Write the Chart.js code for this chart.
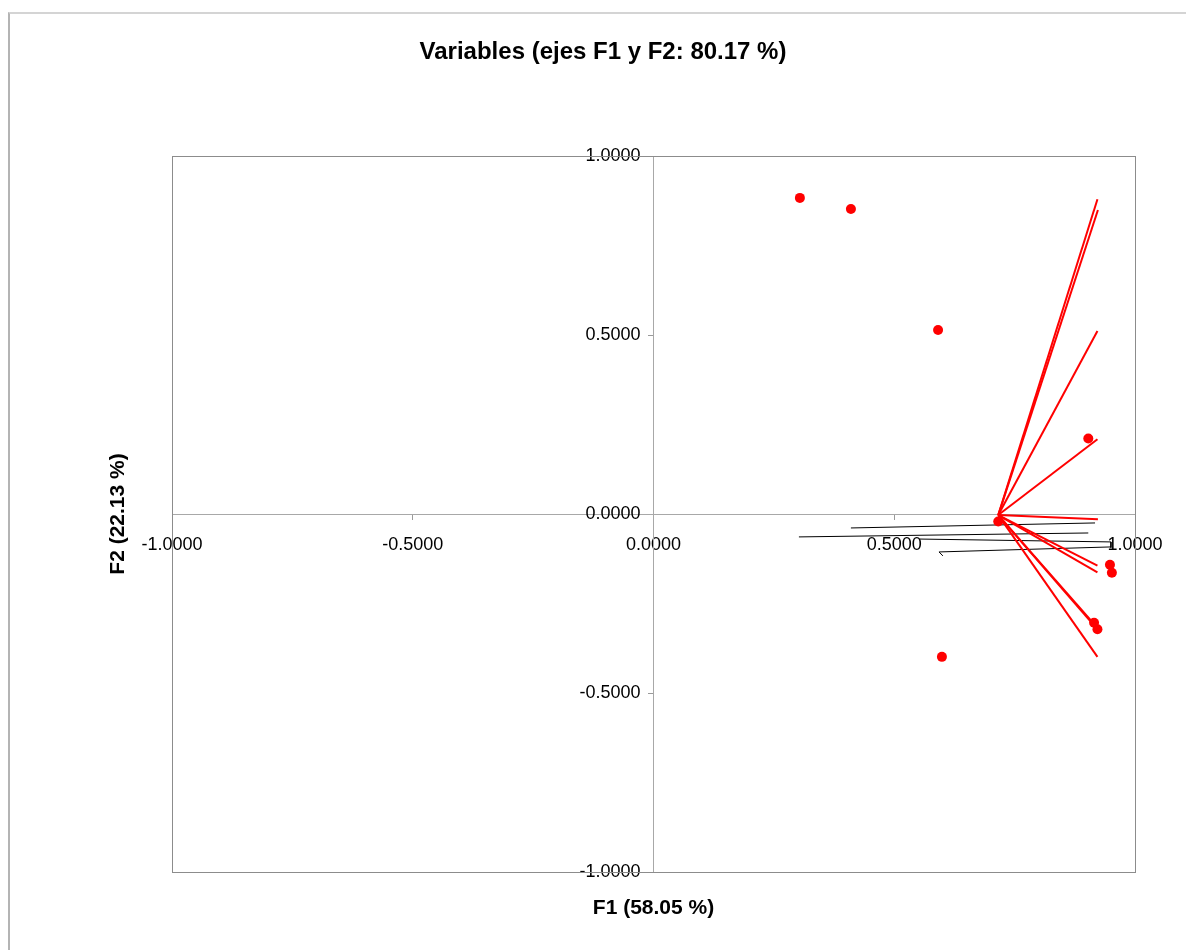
<!DOCTYPE html>
<html lang="es">
    <head>
        <meta charset="UTF-8">
        <title>Variables (ejes F1 y F2: 80.17 %)</title>
        <script src="https://cdn.jsdelivr.net/npm/chart.js"></script>
        <style>
            html, body {
                margin: 0;
                padding: 0;
                background: #ffffff;
                overflow: hidden;
            }
            .marco {
                position: absolute;
                left: 8px;
                top: 12px;
                width: 1200px;
                height: 960px;
                border-left: 2px solid #b4b4b4;
                border-top: 2px solid #d4d4d4;
            }
            .lienzo {
                position: absolute;
                left: 0;
                top: 0;
                width: 1186px;
                height: 936px;
            }
        </style>
    </head>
    <body>
        <div class="marco">
            <div class="lienzo">
                <canvas id="grafico"></canvas>
            </div>
        </div>

        <script>
            // coordenadas de las variables (F1, F2)
            const puntosF1 = [0.304, 0.410, 0.591, 0.903, 0.716, 0.948, 0.952, 0.915, 0.922, 0.599];
            const puntosF2 = [0.883, 0.852, 0.514, 0.211, -0.021, -0.142, -0.164, -0.304, -0.322, -0.399];

            // vectores rojos: todos salen del mismo origen
            const origenF1 = 0.716;
            const origenF2 = -0.003;
            const vectorF1 = [0.922, 0.923, 0.922, 0.922, 0.923, 0.922, 0.922, 0.913, 0.922, 0.922];
            const vectorF2 = [0.879, 0.849, 0.511, 0.209, -0.015, -0.144, -0.163, -0.304, -0.322, -0.399];

            // lineas negras de las etiquetas
            const lineasF1 = [[0.410, 0.917], [0.302, 0.903], [0.553, 0.950, 0.950], [0.601, 0.593, 0.950]];
            const lineasF2 = [[-0.039, -0.025], [-0.064, -0.053], [-0.070, -0.078, -0.094], [-0.117, -0.106, -0.092]];

            const marcasEje = [-1, -0.5, 0, 0.5, 1];

            const fuente = "'Liberation Sans', Arial, sans-serif";

            const datasets = [];
            datasets.push({
                label: 'Variables',
                data: puntosF1.map(function(x, i) { return {x: x, y: puntosF2[i]}; }),
                showLine: false,
                pointRadius: 5,
                pointBackgroundColor: '#ff0000',
                pointBorderWidth: 0,
                order: 1
            });
            vectorF1.forEach(function(x, i) {
                datasets.push({
                    data: [{x: origenF1, y: origenF2}, {x: x, y: vectorF2[i]}],
                    showLine: true,
                    borderColor: '#ff0000',
                    borderWidth: 2,
                    pointRadius: 0,
                    order: 2
                });
            });
            lineasF1.forEach(function(xs, i) {
                datasets.push({
                    data: xs.map(function(x, j) { return {x: x, y: lineasF2[i][j]}; }),
                    showLine: true,
                    borderColor: '#000000',
                    borderWidth: 1,
                    pointRadius: 0,
                    order: 3
                });
            });
            datasets.forEach(function(d) { d.xAxisID = 'x'; d.yAxisID = 'y'; });

            // recuadro del area de trazado
            const recuadro = {
                id: 'recuadro',
                beforeDatasetsDraw(chart) {
                    const a = chart.chartArea;
                    const ctx = chart.ctx;
                    ctx.save();
                    ctx.strokeStyle = '#8c8c8c';
                    ctx.lineWidth = 1;
                    ctx.strokeRect(Math.round(a.left) + 0.5, Math.round(a.top) + 0.5,
                        Math.round(a.right - a.left), Math.round(a.bottom - a.top));
                    ctx.restore();
                }
            };

            const ejeCentral = function(pos) {
                return {
                    type: 'linear',
                    min: -1,
                    max: 1,
                    position: pos,
                    afterBuildTicks: function(s) { s.ticks = marcasEje.map(function(v) { return {value: v}; }); },
                    ticks: {
                        color: '#000000',
                        font: {family: fuente, size: 18},
                        padding: 15,
                        maxRotation: 0,
                        autoSkip: false,
                        callback: function(v) { return Number(v).toFixed(4); }
                    },
                    grid: {drawOnChartArea: false, drawTicks: true, tickLength: 5, color: '#9a9a9a'},
                    border: {display: true, color: '#a8a8a8', width: 1}
                };
            };

            const ejeX = ejeCentral({y: 0});
            const ejeY = ejeCentral({x: 0});
            ejeY.ticks.display = false;

            // etiquetas del eje vertical, un poco a la izquierda de la linea
            const ejeYEtiquetas = ejeCentral({x: -0.027});
            ejeYEtiquetas.axis = 'y';
            ejeYEtiquetas.grid = {display: false, drawTicks: false};
            ejeYEtiquetas.border = {display: false};

            new Chart(document.getElementById('grafico'), {
                type: 'scatter',
                data: {datasets: datasets},
                options: {
                    responsive: true,
                    maintainAspectRatio: false,
                    animation: false,
                    layout: {padding: {left: 61, right: 61, top: 0, bottom: 29.4}},
                    plugins: {
                        legend: {display: false},
                        tooltip: {enabled: false},
                        title: {
                            display: true,
                            text: 'Variables (ejes F1 y F2: 80.17 %)',
                            color: '#000000',
                            font: {family: fuente, size: 24, weight: 'bold'},
                            padding: {top: 23.6, bottom: 89.6}
                        }
                    },
                    scales: {
                        x: ejeX,
                        y: ejeY,
                        yEtiquetas: ejeYEtiquetas,
                        x2: {
                            type: 'linear',
                            axis: 'x',
                            position: 'bottom',
                            min: -1,
                            max: 1,
                            ticks: {display: false},
                            grid: {display: false, drawTicks: false},
                            border: {display: false},
                            title: {
                                display: true,
                                text: 'F1 (58.05 %)',
                                color: '#000000',
                                font: {family: fuente, size: 21, weight: 'bold'},
                                padding: {top: 23.4, bottom: 0}
                            }
                        },
                        y2: {
                            type: 'linear',
                            axis: 'y',
                            position: 'left',
                            min: -1,
                            max: 1,
                            ticks: {display: false},
                            grid: {display: false, drawTicks: false},
                            border: {display: false},
                            title: {
                                display: true,
                                text: 'F2 (22.13 %)',
                                color: '#000000',
                                font: {family: fuente, size: 21, weight: 'bold'},
                                padding: {top: 34.4, bottom: 41.4}
                            }
                        }
                    }
                },
                plugins: [recuadro]
            });
        </script>
    </body>
</html>
